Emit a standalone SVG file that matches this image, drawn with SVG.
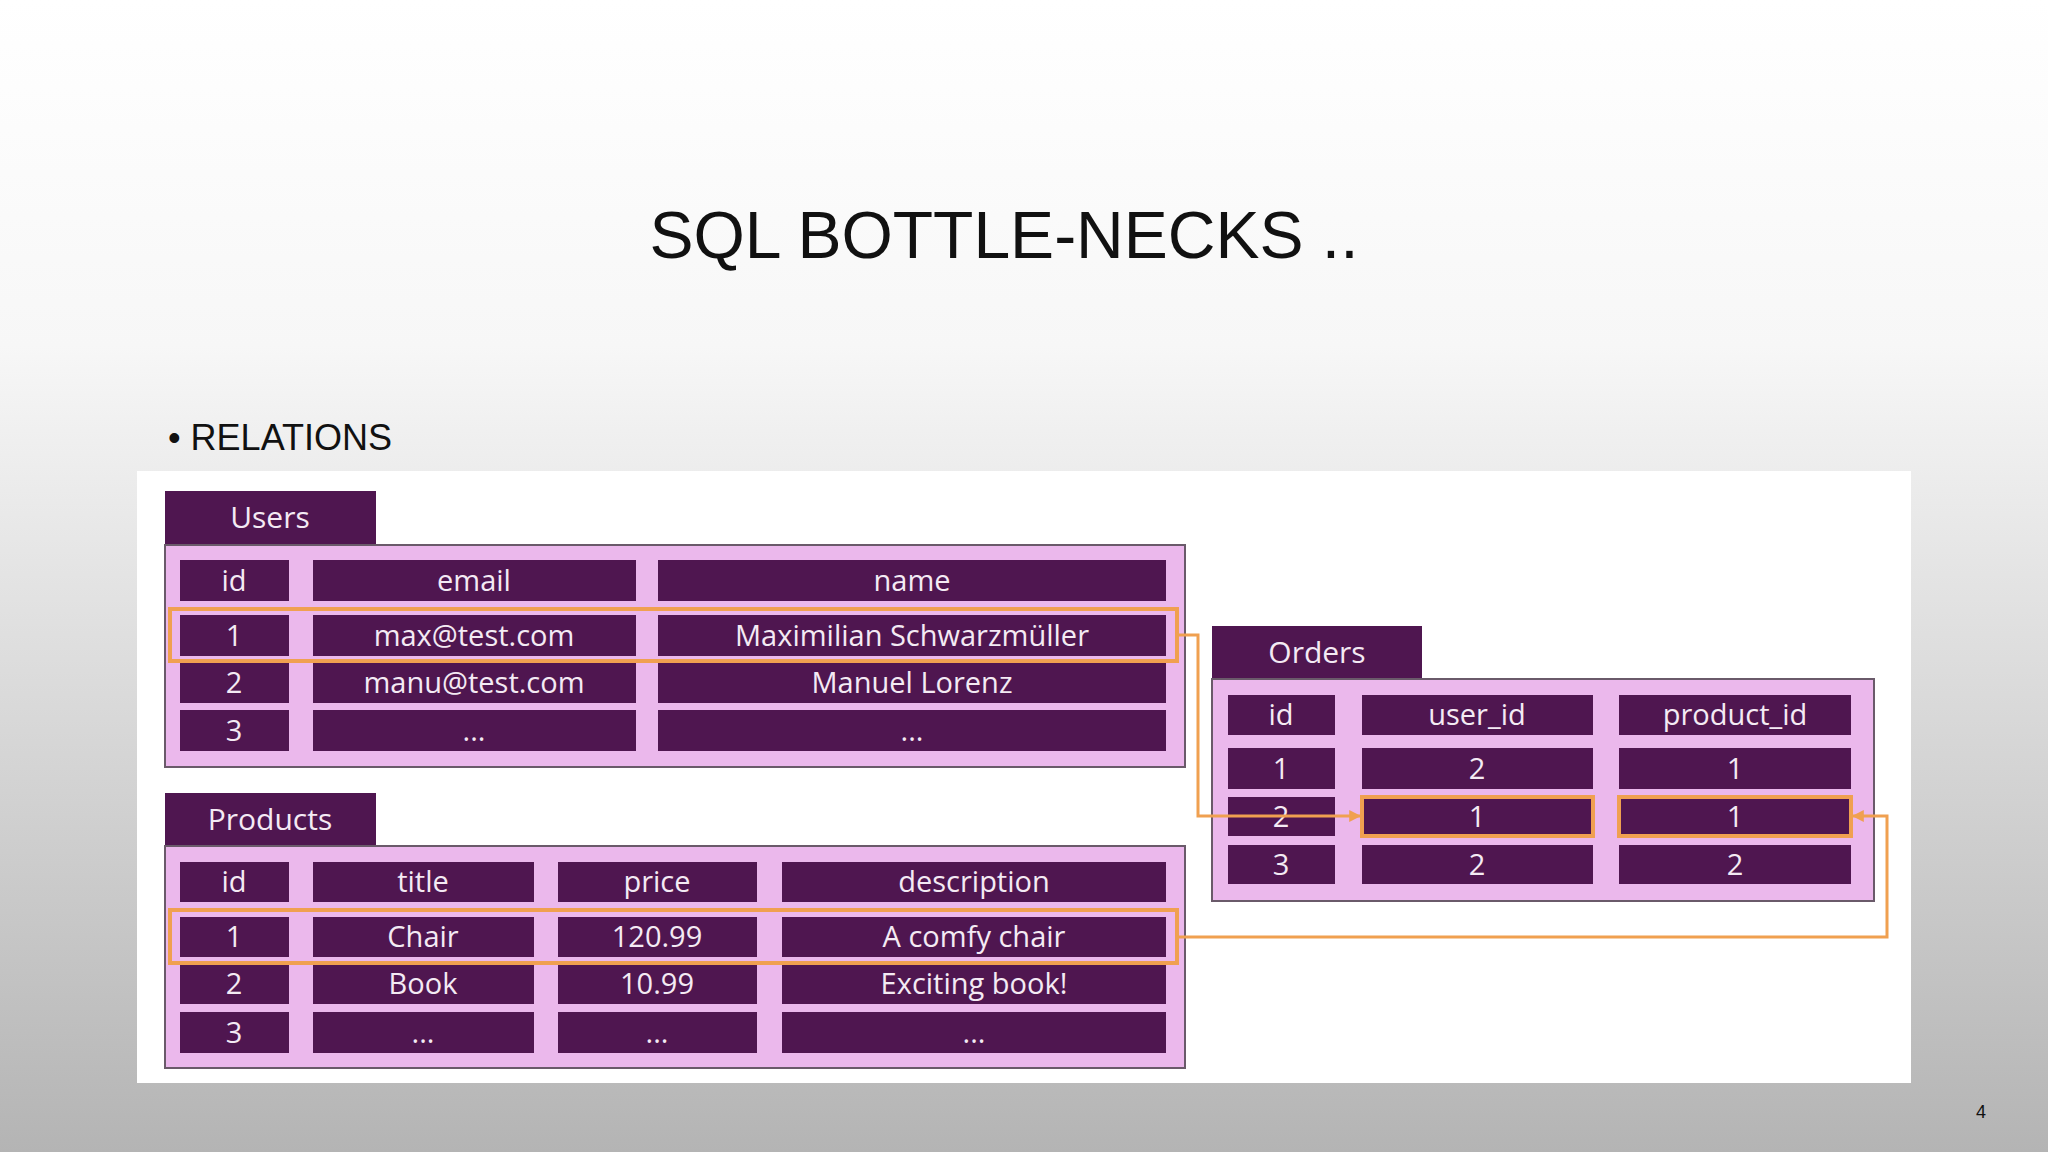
<svg xmlns="http://www.w3.org/2000/svg" width="2048" height="1152" viewBox="0 0 2048 1152">
<defs>
<linearGradient id="bg" x1="0" y1="0" x2="0" y2="1">
<stop offset="0" stop-color="#ffffff"/><stop offset="0.3" stop-color="#f7f7f7"/><stop offset="1" stop-color="#b4b4b4"/>
</linearGradient>
<marker id="ar" viewBox="0 0 10 10" refX="9" refY="5" markerWidth="4" markerHeight="4" orient="auto"><path d="M0,0L10,5L0,10z" fill="#f0a050"/></marker>
<style>
.tab{fill:#4f1650}
.body{fill:#ebb8ec;stroke:#6a5a6a;stroke-width:2}
.c{fill:#4f1650}
.t{font-family:"Open Sans","Noto Sans",sans-serif;font-size:29px;fill:#f4eaf4;text-anchor:middle}
.tt{font-family:"Open Sans","Noto Sans",sans-serif;font-size:30px;fill:#f4eaf4;text-anchor:middle}
.hl{fill:none;stroke:#f0a050;stroke-width:4}
.con{fill:none;stroke:#f0a050;stroke-width:3}
</style>
</defs>
<rect width="2048" height="1152" fill="url(#bg)"/>
<text x="1004" y="258" font-family="Liberation Sans,sans-serif" font-size="66" text-anchor="middle" fill="#111">SQL BOTTLE-NECKS ..</text>
<text x="168" y="450" font-family="Liberation Sans,sans-serif" font-size="36" fill="#111">•  RELATIONS</text>
<text x="1981" y="1118" font-family="Liberation Sans,sans-serif" font-size="18" text-anchor="middle" fill="#111">4</text>
<rect x="137" y="471" width="1774" height="612" fill="#ffffff"/>

<g id="users">
<rect class="tab" x="165" y="491" width="211" height="56"/>
<text class="tt" x="270" y="528">Users</text>
<rect class="body" x="165" y="545" width="1020" height="222"/>
<rect class="c" x="180" y="560" width="109" height="41"/><rect class="c" x="313" y="560" width="323" height="41"/><rect class="c" x="658" y="560" width="508" height="41"/>
<rect class="c" x="180" y="615" width="109" height="41"/><rect class="c" x="313" y="615" width="323" height="41"/><rect class="c" x="658" y="615" width="508" height="41"/>
<rect class="c" x="180" y="663" width="109" height="40"/><rect class="c" x="313" y="663" width="323" height="40"/><rect class="c" x="658" y="663" width="508" height="40"/>
<rect class="c" x="180" y="710" width="109" height="41"/><rect class="c" x="313" y="710" width="323" height="41"/><rect class="c" x="658" y="710" width="508" height="41"/>
<text class="t" x="234" y="591">id</text><text class="t" x="474" y="591">email</text><text class="t" x="912" y="591">name</text>
<text class="t" x="234" y="646">1</text><text class="t" x="474" y="646">max@test.com</text><text class="t" x="912" y="646">Maximilian Schwarzmüller</text>
<text class="t" x="234" y="693">2</text><text class="t" x="474" y="693">manu@test.com</text><text class="t" x="912" y="693">Manuel Lorenz</text>
<text class="t" x="234" y="741">3</text><text class="t" x="474" y="741">...</text><text class="t" x="912" y="741">...</text>
<rect class="hl" x="170" y="609" width="1007" height="52"/>
</g>

<g id="products">
<rect class="tab" x="165" y="793" width="211" height="55"/>
<text class="tt" x="270" y="830">Products</text>
<rect class="body" x="165" y="846" width="1020" height="222"/>
<rect class="c" x="180" y="862" width="109" height="40"/><rect class="c" x="313" y="862" width="221" height="40"/><rect class="c" x="558" y="862" width="199" height="40"/><rect class="c" x="782" y="862" width="384" height="40"/>
<rect class="c" x="180" y="917" width="109" height="40"/><rect class="c" x="313" y="917" width="221" height="40"/><rect class="c" x="558" y="917" width="199" height="40"/><rect class="c" x="782" y="917" width="384" height="40"/>
<rect class="c" x="180" y="965" width="109" height="39"/><rect class="c" x="313" y="965" width="221" height="39"/><rect class="c" x="558" y="965" width="199" height="39"/><rect class="c" x="782" y="965" width="384" height="39"/>
<rect class="c" x="180" y="1012" width="109" height="41"/><rect class="c" x="313" y="1012" width="221" height="41"/><rect class="c" x="558" y="1012" width="199" height="41"/><rect class="c" x="782" y="1012" width="384" height="41"/>
<text class="t" x="234" y="892">id</text><text class="t" x="423" y="892">title</text><text class="t" x="657" y="892">price</text><text class="t" x="974" y="892">description</text>
<text class="t" x="234" y="947">1</text><text class="t" x="423" y="947">Chair</text><text class="t" x="657" y="947">120.99</text><text class="t" x="974" y="947">A comfy chair</text>
<text class="t" x="234" y="994">2</text><text class="t" x="423" y="994">Book</text><text class="t" x="657" y="994">10.99</text><text class="t" x="974" y="994">Exciting book!</text>
<text class="t" x="234" y="1043">3</text><text class="t" x="423" y="1043">...</text><text class="t" x="657" y="1043">...</text><text class="t" x="974" y="1043">...</text>
<rect class="hl" x="170" y="910" width="1007" height="53"/>
</g>

<g id="orders">
<rect class="tab" x="1212" y="626" width="210" height="55"/>
<text class="tt" x="1317" y="663">Orders</text>
<rect class="body" x="1212" y="679" width="662" height="222"/>
<rect class="c" x="1228" y="695" width="107" height="40"/><rect class="c" x="1362" y="695" width="231" height="40"/><rect class="c" x="1619" y="695" width="232" height="40"/>
<rect class="c" x="1228" y="748" width="107" height="41"/><rect class="c" x="1362" y="748" width="231" height="41"/><rect class="c" x="1619" y="748" width="232" height="41"/>
<rect class="c" x="1228" y="797" width="107" height="39"/><rect class="c" x="1362" y="797" width="231" height="39"/><rect class="c" x="1619" y="797" width="232" height="39"/>
<rect class="c" x="1228" y="845" width="107" height="39"/><rect class="c" x="1362" y="845" width="231" height="39"/><rect class="c" x="1619" y="845" width="232" height="39"/>
<text class="t" x="1281" y="725">id</text><text class="t" x="1477" y="725">user_id</text><text class="t" x="1735" y="725">product_id</text>
<text class="t" x="1281" y="779">1</text><text class="t" x="1477" y="779">2</text><text class="t" x="1735" y="779">1</text>
<text class="t" x="1281" y="827">2</text><text class="t" x="1477" y="827">1</text><text class="t" x="1735" y="827">1</text>
<text class="t" x="1281" y="875">3</text><text class="t" x="1477" y="875">2</text><text class="t" x="1735" y="875">2</text>
<rect class="hl" x="1362" y="797" width="231" height="39"/>
<rect class="hl" x="1619" y="797" width="232" height="39"/>
</g>

<g id="connectors">
<path class="con" d="M1177,635 H1198 V816 H1360" marker-end="url(#ar)"/>
<path class="con" d="M1177,937 H1887 V816 H1853" marker-end="url(#ar)"/>
</g>
</svg>
